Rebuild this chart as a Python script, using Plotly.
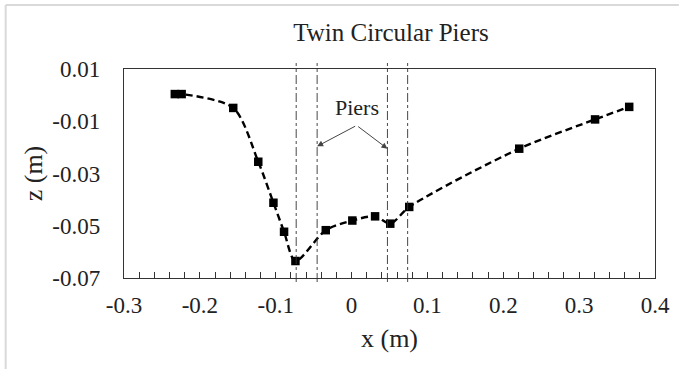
import plotly.graph_objects as go

# Data
x_vals = [-0.233, -0.224, -0.156, -0.123, -0.103, -0.089, -0.074, -0.034, 0.001, 0.031, 0.051, 0.076, 0.221, 0.321, 0.366]
z_vals = [0.0004, 0.0004, -0.0049, -0.0255, -0.0412, -0.0523, -0.0635, -0.0517, -0.0480, -0.0464, -0.0492, -0.0428, -0.0205, -0.0093, -0.0045]
pier_lines = [-0.073, -0.0454, 0.0473, 0.0739]
x_ticks = [-0.3, -0.2, -0.1, 0, 0.1, 0.2, 0.3, 0.4]
x_tick_text = ["-0.3", "-0.2", "-0.1", "0", "0.1", "0.2", "0.3", "0.4"]
y_ticks = [0.01, -0.01, -0.03, -0.05, -0.07]
y_tick_text = ["0.01", "-0.01", "-0.03", "-0.05", "-0.07"]
label_text = "Piers"
label_pos = (0.0065, -0.0048)
arrow_tail = (0.0067, -0.0116)
arrow_heads = [(-0.0454, -0.0196), (0.0473, -0.0205)]

W, H = 682, 369
ML, MR, MT, MB = 124, 24, 69, 91
PW, PH = W - ML - MR, H - MT - MB

FONT = "Liberation Serif"

fig = go.Figure()
fig.add_trace(go.Scatter(
    x=x_vals, y=z_vals, mode="lines+markers",
    line=dict(color="black", width=2.4, dash="7px,4px", shape="spline", smoothing=0.8),
    marker=dict(symbol="square", size=8.5, color="black"),
    showlegend=False, cliponaxis=False,
))

shapes = []
for xv in pier_lines:
    shapes.append(dict(type="line", xref="x", yref="paper", x0=xv, x1=xv,
                       y0=-4 / PH, y1=1 + 6 / PH,
                       line=dict(color="#333333", width=0.9, dash="dashdot")))
# light outer frame (left and top)
px = lambda p: (p - ML) / PW
py = lambda p: (H - MB - p) / PH
shapes.append(dict(type="line", xref="paper", yref="paper", x0=px(5), x1=px(W), y0=py(5), y1=py(5),
                   line=dict(color="#d9d9d9", width=2)))
shapes.append(dict(type="line", xref="paper", yref="paper", x0=px(5), x1=px(5), y0=py(5), y1=py(H),
                   line=dict(color="#d9d9d9", width=2)))

annotations = [dict(x=label_pos[0], y=label_pos[1], xref="x", yref="y", text=label_text,
                    showarrow=False, font=dict(family=FONT, size=22, color="#222"))]
for hx, hy in arrow_heads:
    annotations.append(dict(x=hx, y=hy, ax=arrow_tail[0], ay=arrow_tail[1], xref="x", yref="y",
                            axref="x", ayref="y", text="", showarrow=True, arrowhead=2,
                            arrowsize=1.2, arrowwidth=1, arrowcolor="#444"))

fig.update_layout(
    width=W, height=H,
    margin=dict(l=ML, r=MR, t=MT, b=MB),
    paper_bgcolor="white", plot_bgcolor="white",
    title=dict(text="Twin Circular Piers", x=(ML + PW / 2) / W, xanchor="center",
               y=1 - 32 / H, yanchor="middle",
               font=dict(family=FONT, size=25, color="#222")),
    shapes=shapes, annotations=annotations,
    font=dict(family=FONT, color="#222"),
)
fig.update_xaxes(
    range=[-0.3, 0.4], tickvals=x_ticks, ticktext=x_tick_text,
    ticks="inside", ticklen=6, tickcolor="#333", tickwidth=1,
    minor=dict(dtick=0.02, tick0=-0.3, ticks="inside", ticklen=6, tickcolor="#333", tickwidth=1),
    showline=True, linecolor="#333", linewidth=1.3, mirror=True,
    showgrid=False, zeroline=False, ticklabelstandoff=6,
    tickfont=dict(family=FONT, size=23, color="#222"),
    title=dict(text="x (m)", font=dict(family=FONT, size=26, color="#222"), standoff=12),
)
fig.update_yaxes(
    range=[-0.07, 0.01], tickvals=y_ticks, ticktext=y_tick_text,
    ticks="", showline=True, linecolor="#333", linewidth=1.3, mirror=True,
    showgrid=False, zeroline=False, ticklabelstandoff=18,
    tickfont=dict(family=FONT, size=23, color="#222"),
    title=dict(text="z (m)", font=dict(family=FONT, size=26, color="#222"), standoff=2),
)

fig.write_html("out.html")
